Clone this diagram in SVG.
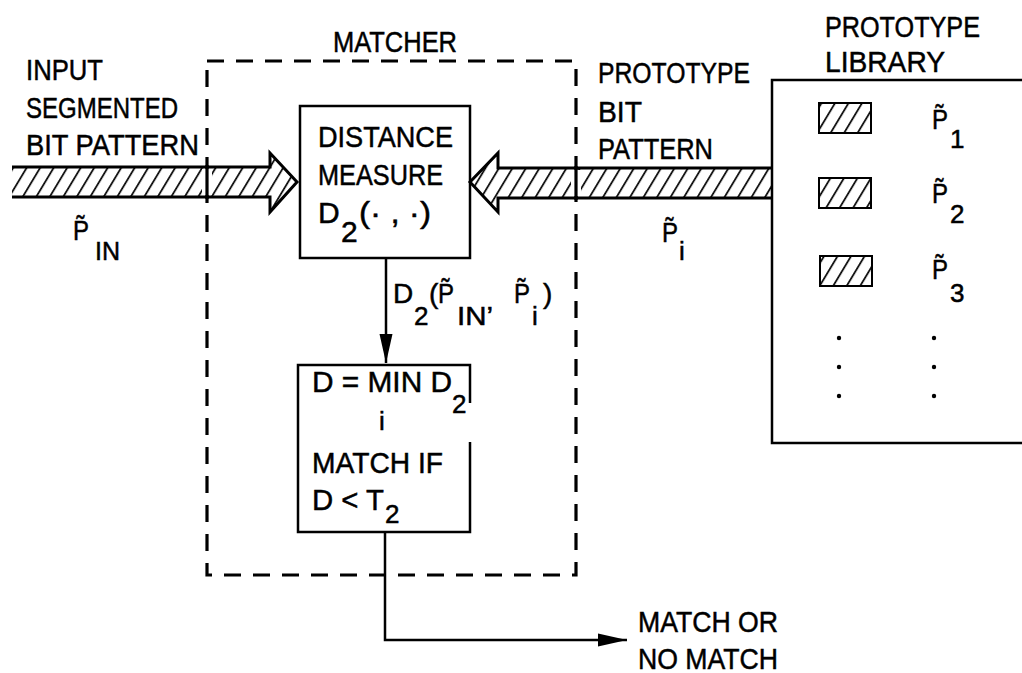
<svg xmlns="http://www.w3.org/2000/svg" width="1022" height="673" viewBox="0 0 1022 673">
<defs>
<pattern id="hatch" patternUnits="userSpaceOnUse" width="13.5" height="40" patternTransform="skewX(-31)">
<line x1="6" y1="-5" x2="6" y2="45" stroke="#000" stroke-width="2"/>
</pattern>
<marker id="arr" markerUnits="userSpaceOnUse" markerWidth="29" markerHeight="14" refX="29" refY="7" orient="auto">
<path d="M0,0.5 L29,7 L0,13.5 z" fill="#000"/>
</marker>
<style>
.t{font-family:"Liberation Sans",Arial,sans-serif;font-size:30px;fill:#000;stroke:#000;stroke-width:0.5}
.s{font-size:26px}
.p{font-size:28px}
.box{fill:none;stroke:#000;stroke-width:2.5}
.band{fill:url(#hatch);stroke:#000;stroke-width:3;stroke-linejoin:miter}
.ln{fill:none;stroke:#000;stroke-width:2.5}
</style>
</defs>
<rect width="1022" height="673" fill="#fff"/>

<g id="connectors">
<path class="band" d="M12,167 H270 V153 L297,182 L270,212 V197 H12"/>
<path class="band" d="M772,168 H498 V153 L470,182 L498,212 V198 H772"/>
<path class="ln" d="M386,258 V363" marker-end="url(#arr)"/>
<path class="ln" d="M385,532 V640 H627" marker-end="url(#arr)"/>
</g>

<g id="input-label">
<text class="t" x="26" y="80" textLength="77" lengthAdjust="spacingAndGlyphs">INPUT</text>
<text class="t" x="26" y="118" textLength="152" lengthAdjust="spacingAndGlyphs">SEGMENTED</text>
<text class="t" x="26" y="155" textLength="173" lengthAdjust="spacingAndGlyphs">BIT PATTERN</text>
<text class="t p" x="73" y="240" textLength="16" lengthAdjust="spacingAndGlyphs">P̃</text>
<text class="t s" x="95" y="260" textLength="25" lengthAdjust="spacingAndGlyphs">IN</text>
</g>

<g id="matcher">
<rect x="207" y="61" width="369" height="514" fill="none" stroke="#000" stroke-width="3.2" stroke-dasharray="17 12"/>
<rect x="202" y="169" width="10" height="26" fill="#fff"/>
<line x1="207" y1="165" x2="207" y2="199" stroke="#000" stroke-width="3.2"/>
<rect x="571" y="170" width="10" height="26" fill="#fff"/>
<line x1="576" y1="166" x2="576" y2="200" stroke="#000" stroke-width="3.2"/>
<text class="t" x="333" y="52" textLength="124" lengthAdjust="spacingAndGlyphs">MATCHER</text>
</g>

<g id="distance-measure">
<rect class="box" x="300" y="106" width="170" height="152"/>
<text class="t" x="318" y="147" textLength="135" lengthAdjust="spacingAndGlyphs">DISTANCE</text>
<text class="t" x="318" y="185" textLength="125" lengthAdjust="spacingAndGlyphs">MEASURE</text>
<text class="t" x="318" y="223">D</text>
<text class="t" x="341" y="242">2</text>
<text class="t" x="359" y="223" font-size="27" textLength="72" lengthAdjust="spacingAndGlyphs">(· , ·)</text>
</g>

<g id="pair-label">
<text class="t p" x="393" y="303">D</text>
<text class="t s" x="414" y="325">2</text>
<text class="t p" x="429" y="303">(</text>
<text class="t p" x="438" y="303" textLength="16" lengthAdjust="spacingAndGlyphs">P̃</text>
<text class="t s" x="457" y="325" textLength="36" lengthAdjust="spacingAndGlyphs">IN’</text>
<text class="t p" x="514" y="303" textLength="16" lengthAdjust="spacingAndGlyphs">P̃</text>
<text class="t s" x="532" y="325">i</text>
<text class="t p" x="543" y="303">)</text>
</g>

<g id="min-box">
<path class="box" d="M470,403 V365 H298 V532 H470 V442"/>
<text class="t" x="312" y="392" textLength="140" lengthAdjust="spacingAndGlyphs">D = MIN D</text>
<text class="t s" x="452" y="413">2</text>
<text class="t s" x="379" y="430">i</text>
<text class="t" x="312" y="473" textLength="131" lengthAdjust="spacingAndGlyphs">MATCH IF</text>
<text class="t" x="312" y="510" textLength="72" lengthAdjust="spacingAndGlyphs">D &lt; T</text>
<text class="t s" x="385" y="523">2</text>
</g>

<g id="prototype-label">
<text class="t" x="598" y="83" textLength="152" lengthAdjust="spacingAndGlyphs">PROTOTYPE</text>
<text class="t" x="598" y="122" textLength="44" lengthAdjust="spacingAndGlyphs">BIT</text>
<text class="t" x="598" y="159" textLength="115" lengthAdjust="spacingAndGlyphs">PATTERN</text>
<text class="t p" x="662" y="242" textLength="16" lengthAdjust="spacingAndGlyphs">P̃</text>
<text class="t s" x="679" y="260">i</text>
</g>

<g id="library">
<text class="t" x="825" y="37" textLength="155" lengthAdjust="spacingAndGlyphs">PROTOTYPE</text>
<text class="t" x="825" y="72" textLength="120" lengthAdjust="spacingAndGlyphs">LIBRARY</text>
<path class="box" d="M1022,80 H772 V443 H1022"/>
<rect x="819" y="103" width="52" height="30" fill="url(#hatch)" stroke="#000" stroke-width="2"/>
<rect x="819" y="178" width="52" height="30" fill="url(#hatch)" stroke="#000" stroke-width="2"/>
<rect x="820" y="256" width="52" height="30" fill="url(#hatch)" stroke="#000" stroke-width="2"/>
<text class="t p" x="932" y="129" textLength="16" lengthAdjust="spacingAndGlyphs">P̃</text>
<text class="t s" x="950" y="148">1</text>
<text class="t p" x="932" y="203" textLength="16" lengthAdjust="spacingAndGlyphs">P̃</text>
<text class="t s" x="950" y="223">2</text>
<text class="t p" x="932" y="279" textLength="16" lengthAdjust="spacingAndGlyphs">P̃</text>
<text class="t s" x="950" y="302">3</text>
<g fill="#000">
<circle cx="839" cy="338" r="2.2"/><circle cx="839" cy="367" r="2.2"/><circle cx="839" cy="396" r="2.2"/>
<circle cx="934" cy="338" r="2.2"/><circle cx="934" cy="367" r="2.2"/><circle cx="934" cy="396" r="2.2"/>
</g>
</g>

<g id="output">
<text class="t" x="638" y="632" textLength="140" lengthAdjust="spacingAndGlyphs">MATCH OR</text>
<text class="t" x="638" y="669" textLength="140" lengthAdjust="spacingAndGlyphs">NO MATCH</text>
</g>
</svg>
